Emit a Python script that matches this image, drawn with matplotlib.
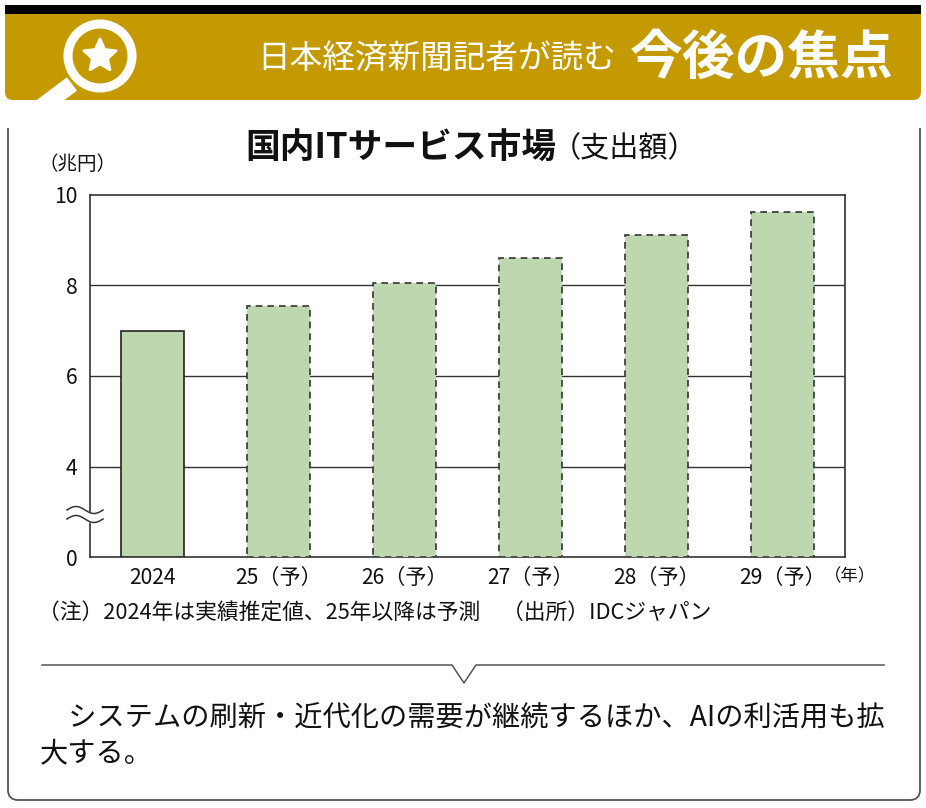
import numpy as np
import matplotlib
matplotlib.use("Agg")
import matplotlib.pyplot as plt
from matplotlib.patches import FancyBboxPatch, Rectangle, Polygon, PathPatch
from matplotlib.path import Path

plt.rcParams['font.family'] = ['Noto Sans CJK JP', 'DejaVu Sans']

# data
years = ['2024', '25（予）', '26（予）', '27（予）', '28（予）', '29（予）']
values = [7.0, 7.55, 8.05, 8.6, 9.12, 9.63]
forecast = [False, True, True, True, True, True]
yticks = [0, 4, 6, 8, 10]
grid_vals = [4, 6, 8]

header_small = '日本経済新聞記者が読む'
header_big = '今後の焦点'
title_main = '国内ITサービス市場'
title_sub = '（支出額）'
unit_label = '（兆円）'
year_label = '（年）'
note = '（注）2024年は実績推定値、25年以降は予測　（出所）IDCジャパン'
body1 = '\u3000システムの刷新・近代化の需要が継続するほか、AIの利活用も拡'
body2 = '大する。'

gold = '#C49A00'
bar_green = '#BDD7AE'

W, H = 926, 808
fig = plt.figure(figsize=(W / 100, H / 100), dpi=100)

# ---- chart ----
ax = fig.add_axes([90 / W, 1 - 557 / H, 755 / W, 362 / H])


def fwd(v):
    v = np.asarray(v, dtype=float)
    return np.where(v >= 4, v - 2, v / 2)


def inv(p):
    p = np.asarray(p, dtype=float)
    return np.where(p >= 2, p + 2, p * 2)


ax.set_yscale('function', functions=(fwd, inv))
x = np.arange(len(years))
for i in range(len(years)):
    if forecast[i]:
        ax.bar(x[i], values[i], width=0.5, color=bar_green, edgecolor='#333333',
               linewidth=1.2, linestyle=(0, (4, 3)), zorder=3)
    else:
        ax.bar(x[i], values[i], width=0.5, color=bar_green, edgecolor='#222222',
               linewidth=1.2, zorder=3)
for g in grid_vals:
    ax.axhline(g, color='#333333', lw=1.0, zorder=1)
ax.set_xlim(-0.5, len(years) - 0.5)
ax.set_ylim(0, 10)
ax.set_yticks(yticks)
ax.set_yticklabels([str(t) for t in yticks])
ax.set_xticks(x)
ax.set_xticklabels(years)
ax.tick_params(length=0, labelsize=15.2, colors='#111111')
ax.tick_params(axis='y', pad=9)
ax.tick_params(axis='x', pad=7)
for s in ax.spines.values():
    s.set_color('#333333')
    s.set_linewidth(1.2)

# ---- overlay in pixel coords ----
ov = fig.add_axes([0, 0, 1, 1], zorder=10)
ov.set_xlim(0, W)
ov.set_ylim(H, 0)
ov.axis('off')
ov.patch.set_alpha(0)

# header band
band = FancyBboxPatch((5 + 8, 17), 916 - 16, 83 - 8, boxstyle='round,pad=8',
                      fc=gold, ec='none')
ov.add_patch(band)
ov.add_patch(Rectangle((5, 5), 916, 12, fc='black', ec='none'))
ov.add_patch(Rectangle((5, 14), 916, 12, fc=gold, ec='none'))

# magnifier icon
cx, cy = 100, 56
handle, = ov.plot([72, 40], [84, 108], color='white', lw=12,
                  solid_capstyle='butt')
handle.set_clip_path(band)
ring = plt.Circle((cx, cy), 32, fc='none', ec='white', lw=6.5)
ov.add_patch(ring)
ang = np.pi / 2 + np.arange(10) * np.pi / 5
rad = np.where(np.arange(10) % 2 == 0, 17, 8)
star = Polygon(np.column_stack([cx + rad * np.cos(ang), cy - rad * np.sin(ang)]),
               closed=True, fc='white', ec='white', lw=2, joinstyle='round')
ov.add_patch(star)

ov.text(616, 60, header_small, color='white', fontsize=23.5, ha='right', va='center')
ov.text(894, 58, header_big, color='white', fontsize=38, fontweight='bold',
        ha='right', va='center')

# main frame
r = 10
verts = [(8, 128), (8, 800 - r), (8, 800), (8 + r, 800), (920 - r, 800),
         (920, 800), (920, 800 - r), (920, 128)]
codes = [Path.MOVETO, Path.LINETO, Path.CURVE3, Path.CURVE3, Path.LINETO,
         Path.CURVE3, Path.CURVE3, Path.LINETO]
ov.add_patch(PathPatch(Path(verts, codes), fc='none', ec='#555555', lw=1.3))

# titles
ov.text(556, 148, title_main, fontsize=25, fontweight='bold', ha='right',
        va='center', color='#111111')
ov.text(552, 149, title_sub, fontsize=21, ha='left', va='center', color='#111111')
ov.text(38, 165, unit_label, fontsize=14, ha='left', va='center', color='#111111')
ov.text(824, 576, year_label, fontsize=12.5, ha='left', va='center', color='#111111')

# axis break mark
wx = np.linspace(67, 103, 40)
wave = 3.5 * np.sin((wx - 67) / 36 * 2 * np.pi)
ov.fill_between(wx, 510 - wave, 519 - wave, color='white', zorder=5)
ov.plot(wx, 510 - wave, color='#333333', lw=1.1, zorder=6)
ov.plot(wx, 519 - wave, color='#333333', lw=1.1, zorder=6)

# note
ov.text(38, 614, note, fontsize=15.7, ha='left', va='center', color='#111111')

# divider with notch
ov.plot([42, 452, 464, 476, 884], [665, 665, 683, 665, 665], color='#555555', lw=1.1)

# body text
ov.text(40, 719, body1, fontsize=20.3, ha='left', va='center', color='#111111')
ov.text(40, 753, body2, fontsize=20.3, ha='left', va='center', color='#111111')

fig.savefig('out.png', dpi=100, facecolor='white')
